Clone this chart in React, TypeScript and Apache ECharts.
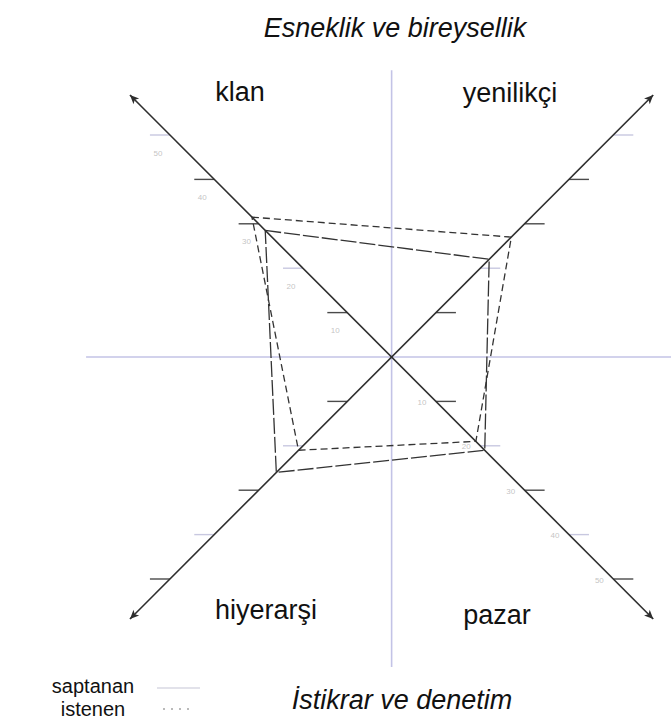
import React, { useEffect, useRef } from "react";
import * as echarts from "echarts";

// Competing values profile: four culture types on the diagonals
const quadrants = ["klan", "yenilikçi", "pazar", "hiyerarşi"];
const saptanan = [28.5, 22, 21, 26];
const istenen = [31.5, 27, 19, 21];
const tickValues = [10, 20, 30, 40, 50];
const axisReach = 59;
const dimensionTitles = ["Esneklik ve bireysellik", "İstikrar ve denetim"];
const legendNames = ["saptanan", "istenen"];

// unit direction of each quadrant's diagonal, same order as `quadrants`
const DIRS = [
  [-1, 1],
  [1, 1],
  [1, -1],
  [-1, -1],
];
// tick side (left/right of the diagonal) and shade per quadrant
const TICK_SIDE = [-1, 1, 1, -1];
const TICK_SHADE = [
  [1, 0, 1, 1, 0],
  [1, 0, 1, 1, 0],
  [1, 0, 1, 0, 1],
  [1, 0, 1, 0, 1],
];
const LABELLED = [0, 2];
const LABEL_OFFSET: Record<number, [number, number]> = { 0: [-12, 18], 2: [-14, 1] };

// pixel frame of the plot
const SCALE = 4.44;
const CX = 392;
const CY = 357;
const XMIN = -72;
const XMAX = 63;
const YMIN = -75;
const YMAX = 75;

const pt = (i: number, v: number) => [DIRS[i][0] * v, DIRS[i][1] * v];
const ring = (vals: number[]) => [...vals.map((v, i) => pt(i, v)), pt(0, vals[0])];

export default function App() {
  const ref = useRef<HTMLDivElement>(null);

  useEffect(() => {
    if (!ref.current) return;
    const chart = echarts.init(ref.current, undefined, { renderer: "svg" });
    const FONT = "Liberation Sans, Arial, sans-serif";

    const tickData: any[] = [];
    quadrants.forEach((_, qi) => {
      tickValues.forEach((t, ti) => {
        const [x, y] = pt(qi, t);
        tickData.push([x, y, TICK_SIDE[qi], TICK_SHADE[qi][ti]]);
      });
    });

    const labelSeries = LABELLED.map((qi) => ({
      type: "scatter",
      silent: true,
      symbolSize: 1,
      itemStyle: { color: "rgba(0,0,0,0)" },
      data: tickValues.map((t) => [...pt(qi, t), t]),
      label: {
        show: true,
        position: "inside",
        offset: LABEL_OFFSET[qi],
        formatter: (p: any) => String(p.value[2]),
        color: "#b4b4b4",
        fontSize: 8,
        fontFamily: FONT,
      },
      z: 2,
    }));

    const option: any = {
      animation: false,
      backgroundColor: "#ffffff",
      grid: {
        left: CX + XMIN * SCALE,
        top: CY - YMAX * SCALE,
        width: (XMAX - XMIN) * SCALE,
        height: (YMAX - YMIN) * SCALE,
      },
      xAxis: { type: "value", min: XMIN, max: XMAX, show: false },
      yAxis: { type: "value", min: YMIN, max: YMAX, show: false },
      series: [
        {
          // horizontal dimension line
          type: "line",
          silent: true,
          symbol: "none",
          data: [
            [-68.9, 0],
            [XMAX, 0],
          ],
          lineStyle: { color: "#c3c3e6", width: 1.6 },
          z: 1,
          markLine: {
            silent: true,
            symbol: ["arrow", "arrow"],
            symbolSize: [6, 9],
            label: { show: false },
            emphasis: { disabled: true },
            lineStyle: { color: "#2e2e2e", width: 1.6, type: "solid" },
            data: [
              [{ coord: pt(0, axisReach) }, { coord: pt(2, axisReach) }],
              [{ coord: pt(3, axisReach) }, { coord: pt(1, axisReach) }],
            ],
          },
        },
        {
          // vertical dimension line
          type: "line",
          silent: true,
          symbol: "none",
          data: [
            [0, -69.8],
            [0, 64.6],
          ],
          lineStyle: { color: "#c3c3e6", width: 1.6 },
          z: 1,
        },
        {
          type: "custom",
          silent: true,
          data: tickData,
          renderItem: (params: any, api: any) => {
            const x = api.value(0);
            const y = api.value(1);
            const side = api.value(2);
            const dark = api.value(3) === 1;
            const a = api.coord([x, y]);
            const b = api.coord([x + side * 4.5, y]);
            return {
              type: "line",
              shape: { x1: a[0], y1: a[1], x2: b[0], y2: b[1] },
              style: { stroke: dark ? "#4a4a4a" : "#c8c8e0", lineWidth: 1.4 },
            };
          },
          z: 3,
        },
        ...labelSeries,
        {
          name: legendNames[0],
          type: "line",
          silent: true,
          symbol: "none",
          data: ring(saptanan),
          lineStyle: { color: "#333333", width: 1.3, type: [16, 3] },
          z: 4,
        },
        {
          name: legendNames[1],
          type: "line",
          silent: true,
          symbol: "none",
          data: ring(istenen),
          lineStyle: { color: "#333333", width: 1.3, type: [7, 4] },
          z: 4,
        },
      ],
      graphic: [
        {
          type: "text",
          x: 395,
          y: 28,
          style: {
            text: dimensionTitles[0],
            font: `italic 27px ${FONT}`,
            fill: "#111111",
            textAlign: "center",
            textVerticalAlign: "middle",
          },
        },
        {
          type: "text",
          x: 402,
          y: 700,
          style: {
            text: dimensionTitles[1],
            font: `italic 27px ${FONT}`,
            fill: "#111111",
            textAlign: "center",
            textVerticalAlign: "middle",
          },
        },
        ...[
          [240, 92],
          [510, 93],
          [497, 615],
          [266, 610],
        ].map(([x, y], i) => ({
          type: "text",
          x,
          y,
          style: {
            text: quadrants[i],
            font: `27px ${FONT}`,
            fill: "#111111",
            textAlign: "center",
            textVerticalAlign: "middle",
          },
        })),
        {
          type: "text",
          x: 93,
          y: 686,
          style: {
            text: legendNames[0],
            font: `20px ${FONT}`,
            fill: "#111111",
            textAlign: "center",
            textVerticalAlign: "middle",
          },
        },
        {
          type: "text",
          x: 93,
          y: 709,
          style: {
            text: legendNames[1],
            font: `20px ${FONT}`,
            fill: "#111111",
            textAlign: "center",
            textVerticalAlign: "middle",
          },
        },
        {
          type: "line",
          shape: { x1: 157, y1: 688, x2: 200, y2: 688 },
          style: { stroke: "#c6c6d6", lineWidth: 1.2 },
        },
        {
          type: "line",
          shape: { x1: 163, y1: 709, x2: 195, y2: 709 },
          style: { stroke: "#777777", lineWidth: 1.2, lineDash: [2, 6] },
        },
      ],
    };

    chart.setOption(option);
    return () => chart.dispose();
  }, []);

  return (
    <div
      ref={ref}
      style={{ position: "absolute", left: 0, top: 0, width: 671, height: 721, background: "#fff" }}
    />
  );
}
